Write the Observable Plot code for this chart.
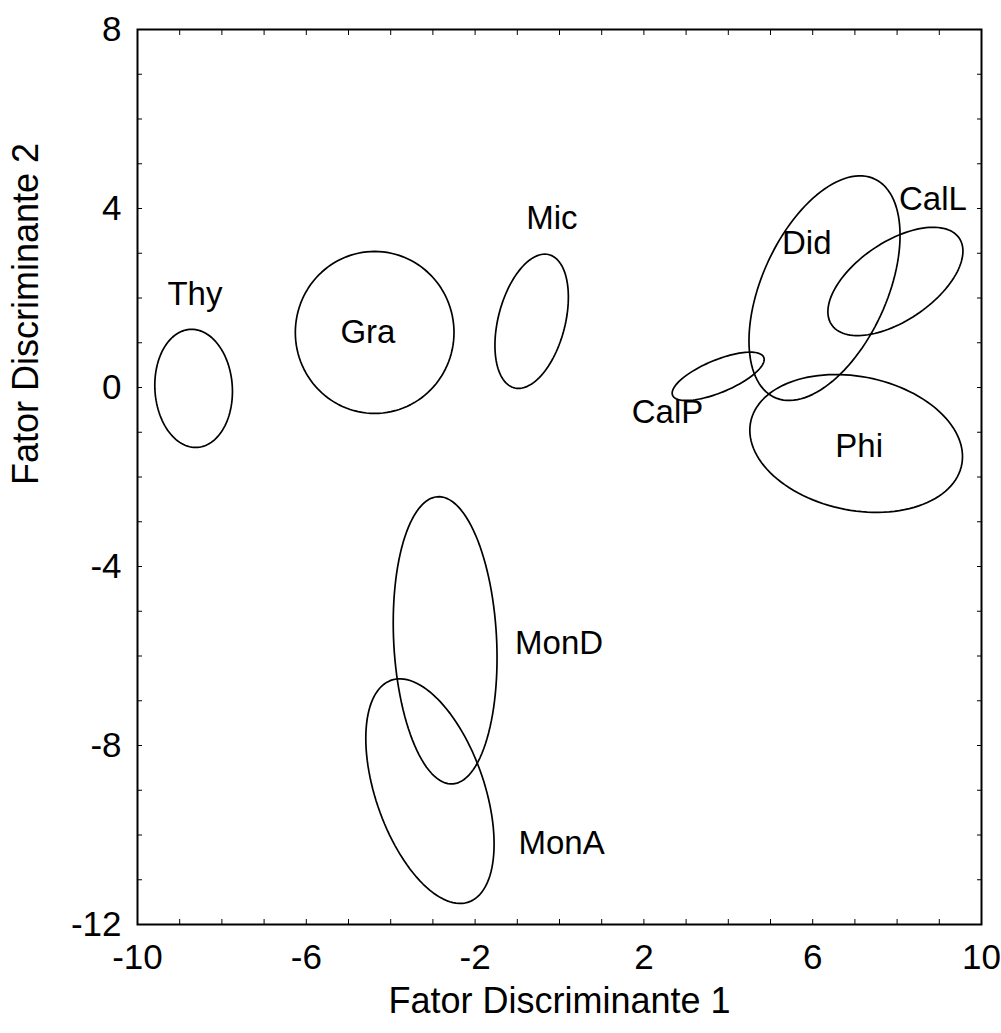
<!DOCTYPE html>
<html>
<head>
<meta charset="utf-8">
<script src="https://cdn.jsdelivr.net/npm/d3@7"></script>
<script src="https://cdn.jsdelivr.net/npm/@observablehq/plot@0.6"></script>
<style>
  html, body { margin: 0; padding: 0; background: #ffffff; }
  #chart svg { display: block; }
</style>
</head>
<body>
<div id="chart"></div>
<script>
// Groups (discriminant-analysis confidence ellipses)
const groups  = ["Thy", "Gra", "Mic", "Did", "CalL", "CalP", "Phi", "MonD", "MonA"];
// Ellipse centres (Fator 1, Fator 2)
const centerX = [-8.67, -4.38, -0.66, 6.28, 7.96, 3.76, 7.03, -2.71, -3.07];
const centerY = [-0.02, 1.23, 1.48, 2.22, 2.37, 0.25, -1.25, -5.65, -9.02];
// Half-extents of each ellipse along the two factors
const spanX   = [0.92, 1.88, 0.87, 1.79, 1.60, 1.09, 2.52, 1.23, 1.52];
const spanY   = [1.32, 1.81, 1.50, 2.51, 1.21, 0.54, 1.54, 3.21, 2.51];
// Phase (degrees) between the two factors: 90 = no correlation
const phase   = [93, 90, 69, 62, 56, 46, 101, 97, 118];
// Label positions
const labelX  = [-8.64, -4.54, -0.18, 5.86, 8.85, 2.56, 7.10, -0.01, 0.05];
const labelY  = [2.08, 1.23, 3.78, 3.22, 4.20, -0.56, -1.32, -5.72, -10.19];
// Axis ticks
const xTickLabels = [-10, -6, -2, 2, 6, 10];
const yTickLabels = [-12, -8, -4, 0, 4, 8];
const xMinorTicks = d3.range(-10, 11, 1);
const yMinorTicks = d3.range(-12, 9, 1);
const xTitle = "Fator Discriminante 1";
const yTitle = "Fator Discriminante 2";

const rad = Math.PI / 180;
const outline = groups.flatMap((g, i) =>
  d3.range(0, 361, 3).map(a => ({
    g,
    x: centerX[i] + spanX[i] * Math.cos(a * rad),
    y: centerY[i] + spanY[i] * Math.cos((a - phase[i]) * rad)
  }))
);
const labels = groups.map((g, i) => ({g, x: labelX[i], y: labelY[i]}));

const font = "'Liberation Sans', Arial, Helvetica, sans-serif";

const chart = Plot.plot({
  width: 1001,
  height: 1033,
  marginLeft: 137,
  marginRight: 20,
  marginTop: 29,
  marginBottom: 109,
  x: {domain: [-10, 10]},
  y: {domain: [-12, 8]},
  style: {fontFamily: font, fontSize: "35px", color: "black", background: "white"},
  marks: [
    Plot.line(outline, {x: "x", y: "y", z: "g", stroke: "black", strokeWidth: 1.7}),
    Plot.text(labels, {x: "x", y: "y", text: "g", fontSize: 33, fill: "black", textAnchor: "middle", lineAnchor: "middle"}),
    // minor inward ticks on all four sides
    Plot.axisX(xMinorTicks, {anchor: "bottom", tickSize: -5, fill: "none", stroke: "black", label: null}),
    Plot.axisX(xMinorTicks, {anchor: "top", tickSize: -5, fill: "none", stroke: "black", label: null}),
    Plot.axisY(yMinorTicks, {anchor: "left", tickSize: -5, fill: "none", stroke: "black", label: null}),
    Plot.axisY(yMinorTicks, {anchor: "right", tickSize: -5, fill: "none", stroke: "black", label: null}),
    // tick labels
    Plot.axisX(xTickLabels, {anchor: "bottom", tickSize: 0, tickPadding: 20, fontSize: 35, label: null, tickFormat: d => String(d)}),
    Plot.axisY(yTickLabels, {anchor: "left", tickSize: 0, tickPadding: 16, fontSize: 35, label: null, tickFormat: d => String(d)}),
    // axis titles
    Plot.text([xTitle], {frameAnchor: "bottom", dy: 88, lineAnchor: "bottom", fontSize: 36, fill: "black"}),
    Plot.text([yTitle], {frameAnchor: "left", dx: -100, dy: 8, rotate: -90, lineAnchor: "bottom", fontSize: 36, fill: "black"}),
    Plot.frame({stroke: "black", strokeWidth: 2})
  ]
});
document.getElementById("chart").appendChild(chart);
</script>
</body>
</html>
